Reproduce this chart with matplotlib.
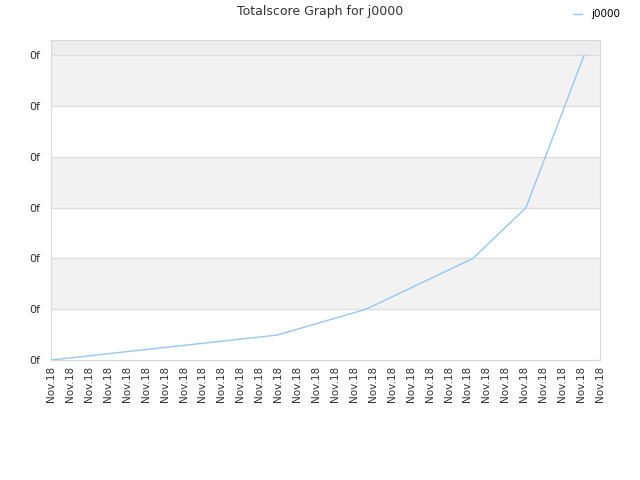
import numpy as np
import matplotlib
matplotlib.use('Agg')
import matplotlib.pyplot as plt

# tick slots on the x axis (all labelled Nov.18)
tickLabels = ['Nov.18'] * 30
# data, in tick units
scoreX = [0, 11.94, 16.64, 22.29, 25.09, 28.16]
scoreY = [0, 0.49, 1.0, 2.0, 3.0, 6.0]
yTicks = [0, 1, 2, 3, 4, 5, 6]

fig = plt.figure(figsize=(6.4, 4.8), dpi=100)
ax = fig.add_axes([51/640, 120/480, 549/640, 320/480])

ymax = 6.3
ax.set_xlim(0, len(tickLabels) - 1)
ax.set_ylim(0, ymax)

# alternating bands
for i in range(len(yTicks)):
    lo = yTicks[i]
    hi = yTicks[i+1] if i+1 < len(yTicks) else ymax
    if i % 2 == 1:
        ax.axhspan(lo, hi, color='#f2f2f2', zorder=0, lw=0)
    elif i == len(yTicks) - 1:
        ax.axhspan(lo, hi, color='#eeeeee', zorder=0, lw=0)
for y in yTicks[1:]:
    ax.axhline(y, color='#dedede', lw=1, zorder=1)

ax.plot(scoreX, scoreY, color='#99c6f4', lw=1.0, label='j0000', zorder=3)

ax.set_xticks(np.arange(len(tickLabels)))
ax.set_xticklabels(tickLabels, rotation=90)
ax.set_yticks(yTicks)
ax.set_yticklabels(['0f'] * len(yTicks))
ax.tick_params(axis='both', length=0, labelsize=7.5, labelcolor='#333333')
ax.tick_params(axis='y', pad=8, labelsize=8)
ax.tick_params(axis='x', pad=4)

for s in ax.spines.values():
    s.set_color('#d8d8d8')

fig.text(0.5, 1 - 12/480, 'Totalscore Graph for j0000', ha='center', va='center',
         fontsize=9, color='#333333')
fig.legend(loc='upper right', bbox_to_anchor=(1 - 10/640, 1.0), frameon=False,
           fontsize=7.5, handlelength=0.9, handletextpad=0.9)

plt.savefig('out.png', dpi=100)
